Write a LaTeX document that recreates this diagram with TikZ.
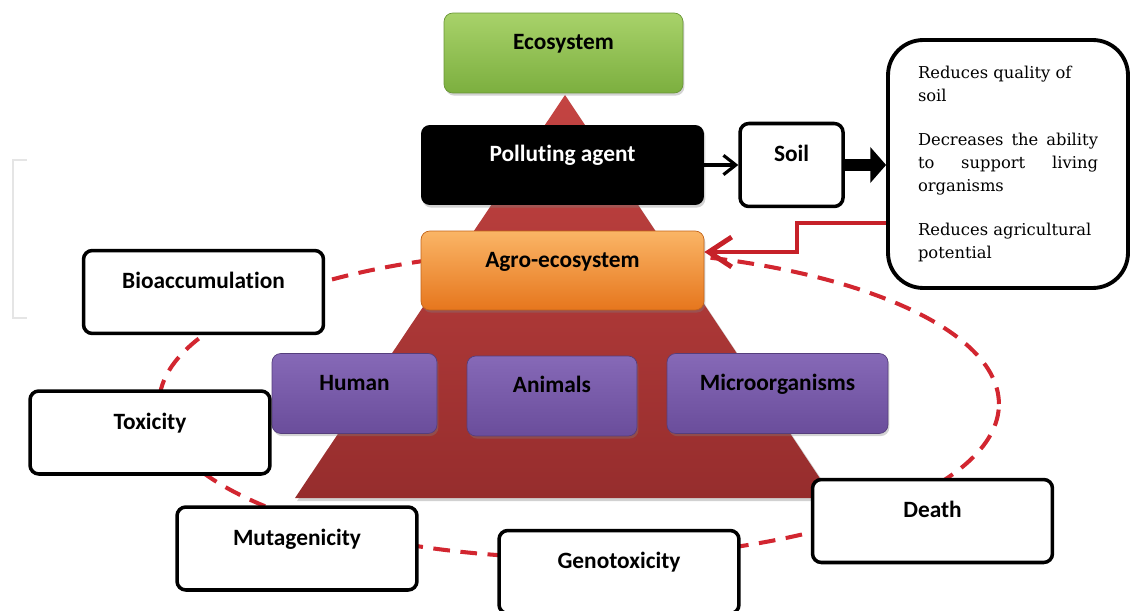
\documentclass[tikz,border=0pt]{standalone}
\usepackage{fontspec}
\setmainfont{Carlito}[Ligatures = NoCommon]
\newfontfamily\notefont{DejaVu Serif}
\usetikzlibrary{positioning, arrows.meta, shadows}

\definecolor{ecotop}{HTML}{A8D26A}
\definecolor{ecobot}{HTML}{7CAF3F}
\definecolor{agrotop}{HTML}{FAB566}
\definecolor{agrobot}{HTML}{E6761D}
\definecolor{purptop}{HTML}{8669B7}
\definecolor{purpbot}{HTML}{6A4D9B}
\definecolor{pyrtop}{HTML}{C44442}
\definecolor{pyrbot}{HTML}{962D2D}
\definecolor{ringred}{HTML}{D22630}
\definecolor{arrowred}{HTML}{C62129}

\begin{document}
\begin{tikzpicture}[x = 0.02cm, y = -0.02cm,
  box/.style = {rounded corners = 5pt, minimum height = 1.6cm, text height = 9pt, text depth = 12.5pt,
    font = \fontsize{13.3}{16}\selectfont\bfseries,
    drop shadow = {opacity = 0.35, shadow xshift = 0.8pt, shadow yshift = -1.5pt}},
  ecobox/.style = {box, top color = ecotop, bottom color = ecobot, draw = ecobot!85!black, thin},
  agrobox/.style = {box, top color = agrotop, bottom color = agrobot, draw = agrobot!85!black, thin},
  lifebox/.style = {box, top color = purptop, bottom color = purpbot, draw = purpbot!80!black, thin},
  effbox/.style = {draw, line width = 2pt, fill = white, rounded corners = 5pt, minimum width = 4.8cm,
    minimum height = 1.66cm, text height = 9pt, text depth = 12.5pt,
    font = \fontsize{13.3}{16}\selectfont\bfseries},
  ring/.style = {ringred, line width = 2.3pt, dash pattern = on 9.5pt off 6pt}]

\useasboundingbox (0,0) rectangle (1133,611);

% faint bracket on the left
\draw[black!10, line width = 1.2pt] (27,160) -- (13,160) -- (13,318) -- (27,318);

% dashed ring of effects
\draw[ring] (579,404) ellipse [x radius = 8.4cm, y radius = 3.08cm];

% pyramid
\fill[black, opacity = 0.18] (567,98) -- (836,501) -- (297,501) -- cycle;
\shade[top color = pyrtop, bottom color = pyrbot] (565,95) -- (833,498) -- (295,498) -- cycle;

\node[ecobox, minimum width = 4.78cm] (eco) at (563.5,53) {Ecosystem};
\node[box, fill = black, text = white, minimum width = 5.66cm] (pol) at (562.5,165) {Polluting agent};
\node[effbox, minimum width = 2.06cm, right = 0.68cm of pol] (soil) {Soil};
\node[draw, line width = 2.2pt, fill = white, rounded corners = 20pt, minimum width = 4.8cm,
  minimum height = 4.96cm, text width = 3.6cm, align = justify,
  font = \fontsize{9.3}{13}\notefont] (effects) at (1008,164) {%
  Reduces quality of\\ soil\\[12pt]
  Decreases\hfill the\hfill ability\\ to\hfill support\hfill living\\ organisms\\[12pt]
  Reduces agricultural\\ potential};
\node[agrobox, minimum width = 5.66cm, minimum height = 1.58cm] (agro) at (562.5,270.5) {Agro-ecosystem};

\node[lifebox, minimum width = 3.3cm] (human) at (354.5,393.5) {Human};
\node[lifebox, minimum width = 3.4cm] (animals) at (552,396) {Animals};
\node[lifebox, minimum width = 4.42cm] (micro) at (777.5,393.5) {Microorganisms};

\foreach \n/\t/\x/\y in {
bio/Bioaccumulation/203.5/292, tox/Toxicity/150/432.5, muta/Mutagenicity/297/548.5,
geno/Genotoxicity/619/572, death/Death/932.5/521}{
\node[effbox] (\n) at (\x,\y) {\t};
}

% arrows
\draw[line width = 1.8pt, -{Straight Barb[length = 7pt, width = 11pt]}] (pol.east) -- (soil.west);
\draw[line width = 7pt, -{Triangle[length = 9pt, width = 20pt]}] (soil.east) -- (soil.east -| effects.west);
\coordinate (kneeA) at (797,223);
\coordinate (kneeB) at (797,252);
\draw[arrowred, line width = 2.8pt, -{Straight Barb[length = 13pt, width = 17pt]}]
  (effects.west |- kneeA) -- (kneeA) -- (kneeB) -- (agro.east |- kneeB);
\end{tikzpicture}
\end{document}
